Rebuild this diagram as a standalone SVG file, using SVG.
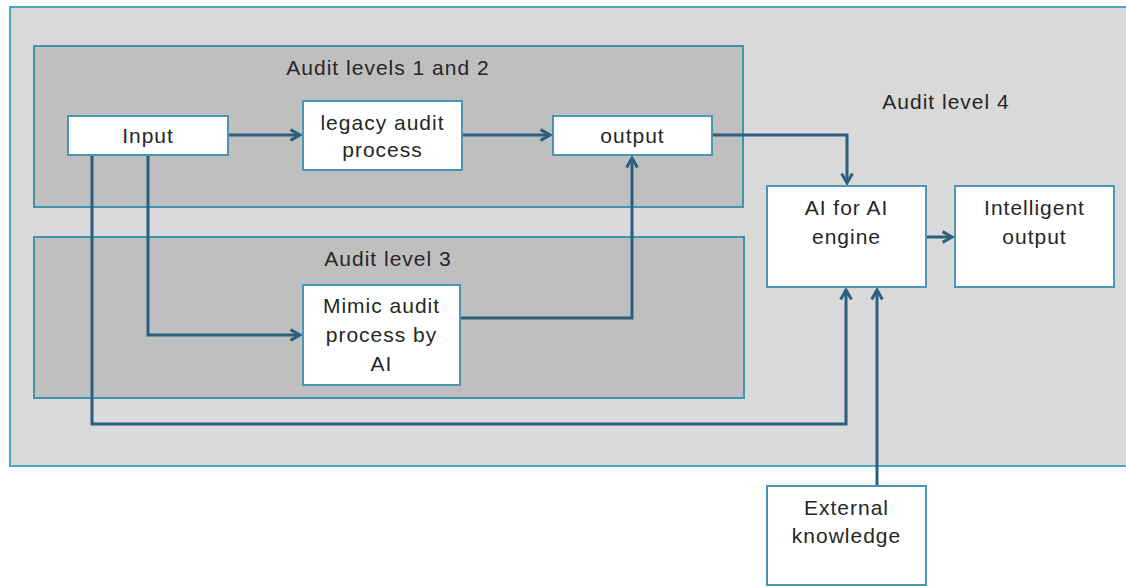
<svg xmlns="http://www.w3.org/2000/svg" width="1126" height="587" viewBox="0 0 1126 587">
<style>
.region{fill:#d9d9d9;stroke:#4aa8c2;stroke-width:2}
.inner{fill:#bfbfbf;stroke:#3f94b0;stroke-width:2}
.node{fill:#ffffff;stroke:#4a97b4;stroke-width:2}
text{font-family:"Liberation Sans",Arial,sans-serif;font-size:21px;fill:#262626;text-anchor:middle;letter-spacing:1px}
.conn{fill:none;stroke:#2b5f7e;stroke-width:3}
</style>
<defs>
<marker id="arr" viewBox="0 0 10 10" refX="8" refY="5" markerWidth="4.5" markerHeight="4.5" orient="auto" markerUnits="strokeWidth">
<path d="M1,1 L8,5 L1,9" fill="none" stroke="#2b5f7e" stroke-width="2.2"/>
</marker>
</defs>
<rect width="1126" height="587" fill="#ffffff"/>
<g id="level4">
<rect class="region" x="10" y="7" width="1130" height="459"/>
<text x="946" y="109">Audit level 4</text>
</g>
<g id="level12">
<rect class="inner" x="34" y="46" width="709" height="161"/>
<text x="388" y="75">Audit levels 1 and 2</text>
</g>
<g id="level3">
<rect class="inner" x="34" y="237" width="710" height="161"/>
<text x="388" y="266">Audit level 3</text>
</g>
<g id="connectors">
<path class="conn" d="M228,135 H300" marker-end="url(#arr)"/>
<path class="conn" d="M462,135 H550" marker-end="url(#arr)"/>
<path class="conn" d="M712,135 H847 V183" marker-end="url(#arr)"/>
<path class="conn" d="M148,155 V335 H300" marker-end="url(#arr)"/>
<path class="conn" d="M460,318 H632 V158" marker-end="url(#arr)"/>
<path class="conn" d="M92,155 V424 H846 V290" marker-end="url(#arr)"/>
<path class="conn" d="M877,486 V290" marker-end="url(#arr)"/>
<path class="conn" d="M926,237 H952" marker-end="url(#arr)"/>
</g>
<g id="input">
<rect class="node" x="68" y="116" width="160" height="39"/>
<text x="148" y="143">Input</text>
</g>
<g id="legacy">
<rect class="node" x="303" y="101" width="159" height="69"/>
<text x="382.5" y="130">legacy audit</text>
<text x="382.5" y="157">process</text>
</g>
<g id="output">
<rect class="node" x="553" y="116" width="159" height="39"/>
<text x="632.5" y="143">output</text>
</g>
<g id="mimic">
<rect class="node" x="303" y="285" width="157" height="100"/>
<text x="381.5" y="313">Mimic audit</text>
<text x="381.5" y="342">process by</text>
<text x="381.5" y="371">AI</text>
</g>
<g id="engine">
<rect class="node" x="767" y="186" width="159" height="101"/>
<text x="846.5" y="215">AI for AI</text>
<text x="846.5" y="244">engine</text>
</g>
<g id="intelligent">
<rect class="node" x="955" y="186" width="159" height="101"/>
<text x="1034.5" y="215">Intelligent</text>
<text x="1034.5" y="244">output</text>
</g>
<g id="external">
<rect class="node" x="767" y="486" width="159" height="99"/>
<text x="846.5" y="515">External</text>
<text x="846.5" y="543">knowledge</text>
</g>
</svg>
